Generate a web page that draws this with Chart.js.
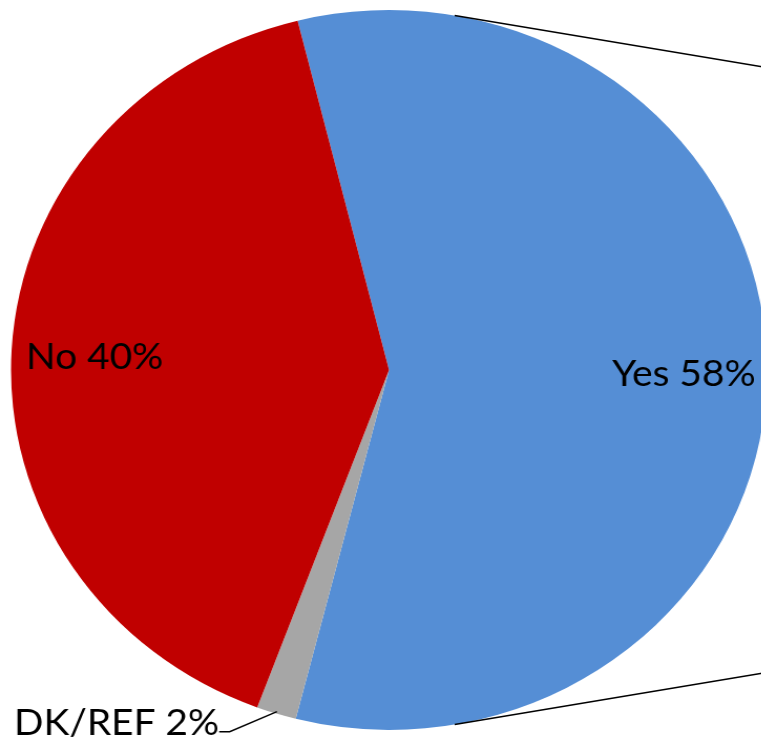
<!DOCTYPE html>
<html>
<head>
<meta charset="utf-8">
<title>Yes / No / DK-REF</title>
<script src="https://cdn.jsdelivr.net/npm/chart.js@4.4.1/dist/chart.umd.min.js"></script>
<style>
  html, body { margin: 0; padding: 0; background: #fff; overflow: hidden; }
  #wrap { position: relative; width: 761px; height: 743px; overflow: hidden; }
  /* the source image is a little wider than tall, so stretch the canvas */
  #pie { position: absolute; left: 0; top: 0; width: 760px; height: 743px;
         transform: scaleX(1.05); transform-origin: 0 0; }
</style>
</head>
<body>
<div id="wrap"><canvas id="pie" width="760" height="743"></canvas></div>
<script>
const labels = ['Yes', 'DK/REF', 'No'];
const values = [57.8, 1.7, 40.4];
const colors = ['#558ED5', '#A6A6A6', '#C00000'];

const FONT = '37px Lato, "Open Sans", sans-serif';

// degrees clockwise from 12 o'clock -> canvas point
function polar(arc, deg, r) {
  const a = (deg - 90) * Math.PI / 180;
  return { x: arc.x + r * Math.cos(a), y: arc.y + r * Math.sin(a) };
}

const pieLabels = {
  id: 'pieLabels',
  afterDatasetsDraw(chart) {
    const ctx = chart.ctx;
    const arcs = chart.getDatasetMeta(0).data;
    const total = values.reduce((a, b) => a + b, 0);
    ctx.save();
    ctx.font = FONT;
    ctx.fillStyle = '#000';
    ctx.strokeStyle = '#000';
    ctx.lineWidth = 1.4;

    // series lines toward the second pie (off to the right)
    const first = arcs[0];
    const r = first.outerRadius;
    [[10, 1], [170, -1]].forEach(([deg, dir]) => {
      const p = polar(first, deg, r);
      const endX = chart.width;
      ctx.beginPath();
      ctx.moveTo(p.x, p.y);
      ctx.lineTo(endX, p.y + dir * 0.175 * (endX - p.x));
      ctx.stroke();
    });

    arcs.forEach((arc, i) => {
      const mid = ((arc.startAngle + arc.endAngle) / 2) * 180 / Math.PI + 90;
      const text = labels[i] + ' ' + Math.round(values[i] / total * 100) + '%';
      if (values[i] / total < 0.05) {
        // small slice: outside label with a leader line
        const edge = polar(arc, mid, arc.outerRadius - 2);
        const elbowX = edge.x - 45, elbowY = edge.y + 20;
        ctx.beginPath();
        ctx.moveTo(edge.x, edge.y);
        ctx.lineTo(elbowX, elbowY);
        ctx.lineTo(elbowX - 10, elbowY);
        ctx.stroke();
        ctx.textAlign = 'right';
        ctx.textBaseline = 'alphabetic';
        ctx.fillText(text, elbowX - 10, elbowY + 3);
      } else {
        const p = polar(arc, mid, arc.outerRadius * 0.78);
        ctx.textAlign = 'center';
        ctx.textBaseline = 'middle';
        ctx.fillText(text, p.x, p.y + 3);
      }
    });
    ctx.restore();
  }
};

new Chart(document.getElementById('pie'), {
  type: 'pie',
  data: {
    labels: labels,
    datasets: [{
      data: values,
      backgroundColor: colors,
      borderWidth: 0,
      hoverOffset: 0,
      offset: 0
    }]
  },
  options: {
    responsive: false,
    animation: false,
    devicePixelRatio: 1,
    rotation: -14,
    layout: { padding: { left: 10.5, right: 29.5, top: 10, bottom: 13 } },
    plugins: {
      legend: { display: false },
      tooltip: { enabled: false }
    }
  },
  plugins: [pieLabels]
});
</script>
</body>
</html>
